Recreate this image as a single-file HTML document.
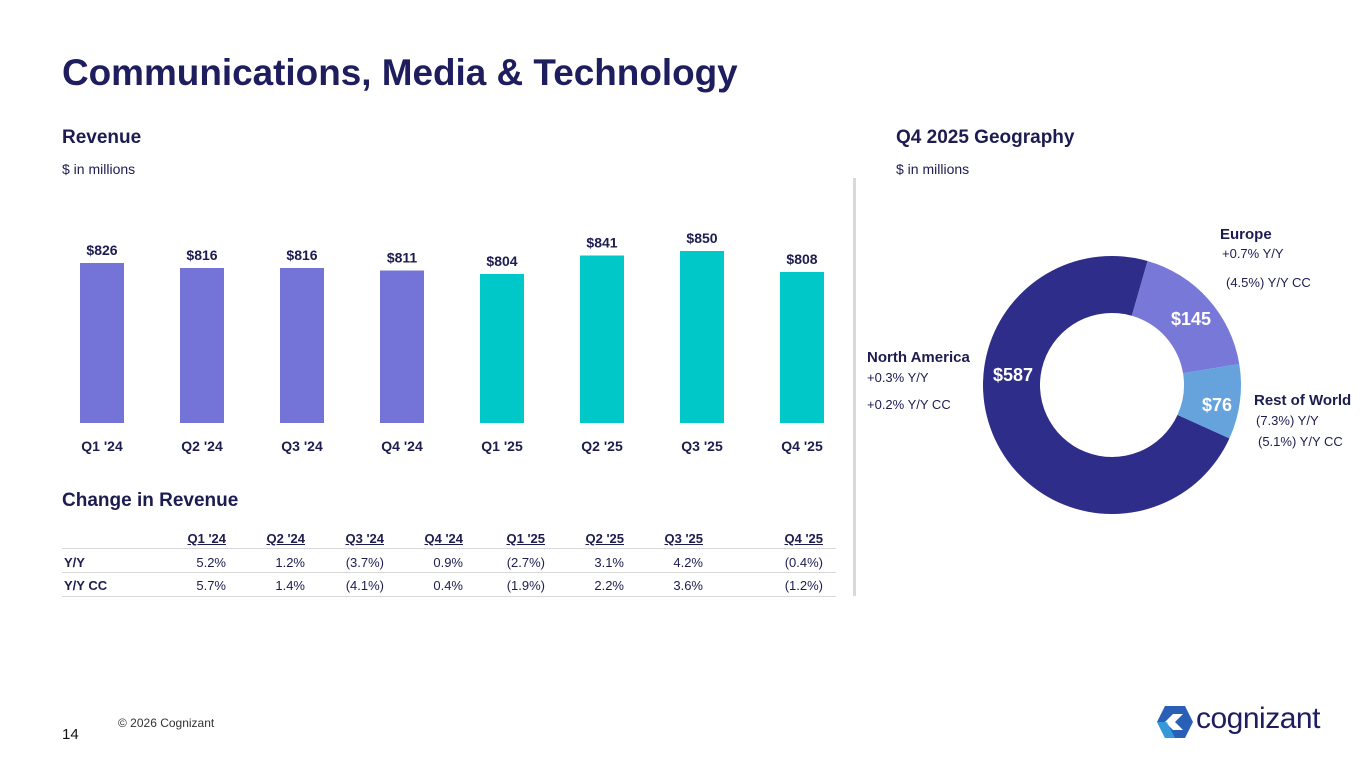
<!DOCTYPE html>
<html><head><meta charset="utf-8"><style>
body{margin:0;width:1365px;height:768px;background:#fff;font-family:"Liberation Sans",sans-serif;color:#1c1c50;position:relative;overflow:hidden}
.a{position:absolute;white-space:nowrap}
</style></head><body>
<div class="a" style="left:62px;top:52px;font-size:36.9px;font-weight:bold;color:#1e1d5e">Communications, Media &amp; Technology</div>
<div class="a" style="left:62px;top:127px;font-size:19px;font-weight:bold">Revenue</div>
<div class="a" style="left:62px;top:161px;font-size:14px">$ in millions</div>
<div class="a" style="left:896px;top:127px;font-size:19px;font-weight:bold">Q4 2025 Geography</div>
<div class="a" style="left:896px;top:161px;font-size:14px">$ in millions</div>
<div class="a" style="left:853px;top:178px;width:3px;height:418px;background:#d9d9d9"></div>
<div class="a" style="left:62px;top:490px;font-size:19px;font-weight:bold">Change in Revenue</div>
<svg class="a" style="left:0;top:0" width="860" height="620" id="bars"></svg>
<svg class="a" style="left:0;top:0" width="1365" height="768" id="donut"></svg>
<div id="tbl"></div>
<div class="a" style="left:118px;top:716px;font-size:12px;color:#333">© 2026 Cognizant</div>
<div class="a" style="left:62px;top:726px;font-size:15px;color:#111">14</div>
<svg class="a" style="left:1155px;top:704px" width="40" height="36"><polygon points="10,2 30,2 38,18 30,34 10,34 2,18" fill="#2a5fb8"/><polygon points="10,18 18,10 28,10 20,18 28,26 18,26" fill="#fff"/><polygon points="2,18 10,34 20,34 12,18" fill="#3aa6e0" opacity=".8"/></svg>
<div class="a" style="left:1196px;top:702px;font-size:30px;color:#1e1d5e;letter-spacing:-0.5px">cognizant</div>
<script>
const cats=["Q1 '24","Q2 '24","Q3 '24","Q4 '24","Q1 '25","Q2 '25","Q3 '25","Q4 '25"];
const revenue=[826,816,816,811,804,841,850,808];
const yy=["5.2%","1.2%","(3.7%)","0.9%","(2.7%)","3.1%","4.2%","(0.4%)"];
const yycc=["5.7%","1.4%","(4.1%)","0.4%","(1.9%)","2.2%","3.6%","(1.2%)"];
const regions=["North America","Europe","Rest of World"];
const regionVals=[587,145,76];
const NS="http://www.w3.org/2000/svg";
function mk(p,t,a){const e=document.createElementNS(NS,t);for(const k in a)e.setAttribute(k,a[k]);p.appendChild(e);return e;}
const bs=document.getElementById('bars');
const base=423;
function xb(i){return 102+i*100;}
function yv(v){return base-(v-506)*0.5;}
revenue.forEach((v,i)=>{
 const r=mk(bs,'rect',{x:xb(i)-22,y:yv(v),width:44,height:base-yv(v),fill:i<4?'#7474d8':'#00c8c8'});
 
 
 const t=mk(bs,'text',{x:xb(i),y:yv(v)-8,'text-anchor':'middle','font-size':14,'font-weight':'bold',fill:'#1c1c50'});t.textContent='$'+v;
 
 
 const c=mk(bs,'text',{x:xb(i),y:451,'text-anchor':'middle','font-size':14,'font-weight':'bold',fill:'#1c1c50'});c.textContent=cats[i];
 
 
});
const tb=document.getElementById('tbl');
const rights=[226,305,384,463,545,624,703,823];
let h='';
[548,572,596].forEach(y=>h+=`<div class="a" style="left:62px;top:${y}px;width:774px;height:1px;background:#d8d8d8"></div>`);
cats.forEach((c,i)=>{h+=`<div class="a" style="right:${1365-rights[i]}px;top:531px;font-size:13px;font-weight:bold;text-decoration:underline">${c}</div>`;
h+=`<div class="a" style="right:${1365-rights[i]}px;top:555px;font-size:13px">${yy[i]}</div>`;
h+=`<div class="a" style="right:${1365-rights[i]}px;top:578px;font-size:13px">${yycc[i]}</div>`;});
h+=`<div class="a" style="left:64px;top:555px;font-size:13px;font-weight:bold">Y/Y</div><div class="a" style="left:64px;top:578px;font-size:13px;font-weight:bold">Y/Y CC</div>`;
tb.innerHTML=h;
const ds=document.getElementById('donut');
const cx=1112,cy=385,R=129,ri=72;
const cols=['#2e2e8a','#7878d8','#66a3dd'];
const total=regionVals.reduce((a,b)=>a+b,0);
let a0=(16-(regionVals[0]/total)*360)*Math.PI/180;
function pt(r,a){return [cx+r*Math.sin(a),cy-r*Math.cos(a)];}
regionVals.forEach((v,i)=>{
 const a1=a0+v/total*2*Math.PI;
 const [x1,y1]=pt(R,a0),[x2,y2]=pt(R,a1),[x3,y3]=pt(ri,a1),[x4,y4]=pt(ri,a0);
 const lg=(a1-a0)>Math.PI?1:0;
 const p=mk(ds,'path',{d:`M${x1},${y1}A${R},${R} 0 ${lg} 1 ${x2},${y2}L${x3},${y3}A${ri},${ri} 0 ${lg} 0 ${x4},${y4}Z`,fill:cols[i]});
 
 
 a0=a1;
});
const lp=[[1013,381],[1191,325],[1217,411]];
regionVals.forEach((v,i)=>{const t=mk(ds,'text',{x:lp[i][0],y:lp[i][1],'text-anchor':'middle','font-size':18,'font-weight':'bold',fill:'#fff'});t.textContent='$'+v;
 
 });
const notes=[[867,362,'North America',1],[867,382,'+0.3%  Y/Y',0],[867,409,'+0.2% Y/Y CC',0],
[1220,239,'Europe',1],[1222,258,'+0.7%   Y/Y',0],[1226,287,'(4.5%) Y/Y CC',0],
[1254,405,'Rest of World',1],[1256,425,'(7.3%) Y/Y',0],[1258,446,'(5.1%) Y/Y CC',0]];
notes.forEach(n=>{const t=mk(ds,'text',{x:n[0],y:n[1],'font-size':n[3]?15:13,'font-weight':n[3]?'bold':'normal',fill:'#1c1c50'});t.textContent=n[2];
 
 });
</script>
</body></html>
